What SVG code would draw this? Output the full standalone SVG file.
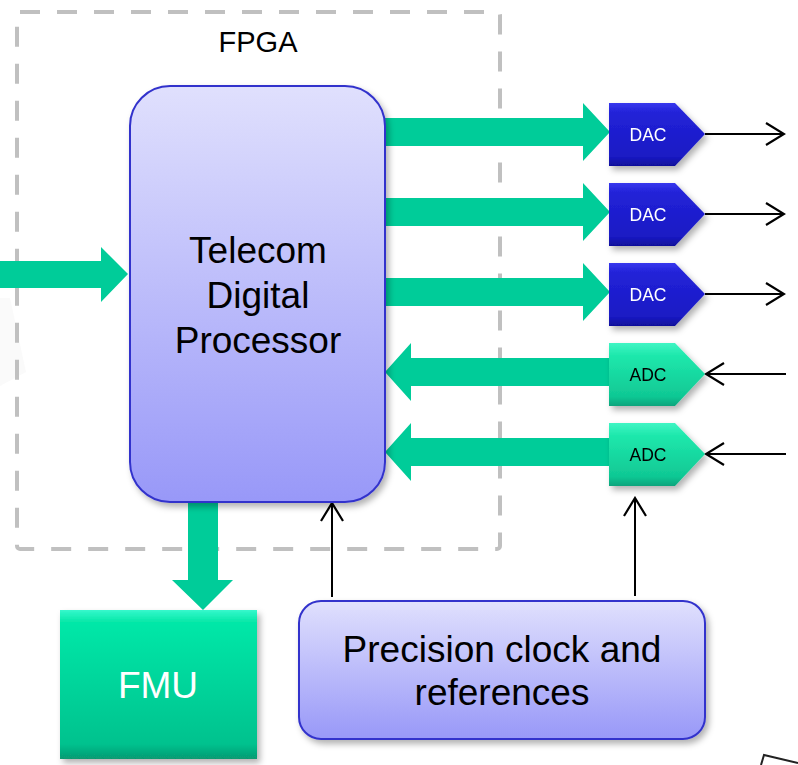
<svg xmlns="http://www.w3.org/2000/svg" width="798" height="765" viewBox="0 0 798 765">
  <defs>
    <linearGradient id="lavender" x1="0" y1="0" x2="0" y2="1">
      <stop offset="0" stop-color="#e0e0fd"/>
      <stop offset="1" stop-color="#9898f8"/>
    </linearGradient>
    <linearGradient id="dacFill" x1="0" y1="0" x2="0" y2="1">
      <stop offset="0" stop-color="#3838ee"/>
      <stop offset="0.15" stop-color="#2222d8"/>
      <stop offset="0.85" stop-color="#1a1ac4"/>
      <stop offset="1" stop-color="#10109a"/>
    </linearGradient>
    <linearGradient id="adcFill" x1="0" y1="0" x2="0" y2="1">
      <stop offset="0" stop-color="#40f5c4"/>
      <stop offset="0.2" stop-color="#1ee8ac"/>
      <stop offset="0.85" stop-color="#10c894"/>
      <stop offset="1" stop-color="#0ea47c"/>
    </linearGradient>
    <linearGradient id="fmuFill" x1="0" y1="0" x2="0" y2="1">
      <stop offset="0" stop-color="#36f8cc"/>
      <stop offset="0.08" stop-color="#06e8a8"/>
      <stop offset="0.9" stop-color="#04c28e"/>
      <stop offset="1" stop-color="#079a72"/>
    </linearGradient>
    <filter id="shadow" x="-10%" y="-10%" width="130%" height="130%">
      <feDropShadow dx="3" dy="4" stdDeviation="3" flood-color="#000" flood-opacity="0.3"/>
    </filter>
    <marker id="chevron" markerUnits="userSpaceOnUse" markerWidth="22" markerHeight="26" viewBox="0 0 22 26" refX="20" refY="13" orient="auto">
      <path d="M2,2 L20,13 L2,24" fill="none" stroke="#000" stroke-width="2.2"/>
    </marker>
    <style>
      .bus { fill: #00cc99; }
      .wire { stroke: #000; stroke-width: 2; fill: none; marker-end: url(#chevron); }
      .big { font-family: "Liberation Sans", Arial, sans-serif; font-size: 37px; text-anchor: middle; }
      .small { font-family: "Liberation Sans", Arial, sans-serif; font-size: 17.5px; text-anchor: middle; }
    </style>
  </defs>

  <rect width="798" height="765" fill="#fff"/>

  <!-- faint background remnants -->
  <polygon points="0,298 10,298 26,372 0,386" fill="#fafafa"/>
  <path d="M761,765 L764,755 L798,763" fill="none" stroke="#222" stroke-width="2"/>

  <!-- FPGA boundary -->
  <g id="fpga">
    <rect x="17" y="12" width="483" height="537" rx="3" fill="none" stroke="#c0c0c0" stroke-width="4" stroke-dasharray="20 17"/>
    <text x="258" y="52" font-family="Liberation Sans, Arial, sans-serif" font-size="29" text-anchor="middle">FPGA</text>
  </g>

  <!-- connectors -->
  <g id="connectors">
    <polygon class="bus" points="0,261 101,261 101,247 128,274 101,302 101,288 0,288"/>
    <polygon class="bus" points="385,118 583,118 583,103 610,132 583,161 583,146 385,146"/>
    <polygon class="bus" points="385,198 583,198 583,183 610,212 583,241 583,226 385,226"/>
    <polygon class="bus" points="385,278 583,278 583,263 610,292 583,321 583,306 385,306"/>
    <polygon class="bus" points="610,358 411,358 411,343 385,372 411,401 411,386 610,386"/>
    <polygon class="bus" points="610,438 411,438 411,423 385,452 411,481 411,466 610,466"/>
    <polygon class="bus" points="188,500 218,500 218,580 233,580 203,610 172,580 188,580"/>
    <line class="wire" x1="705" y1="134" x2="784" y2="134"/>
    <line class="wire" x1="705" y1="214" x2="784" y2="214"/>
    <line class="wire" x1="705" y1="294" x2="784" y2="294"/>
    <line class="wire" x1="786" y1="374" x2="706" y2="374"/>
    <line class="wire" x1="786" y1="454" x2="706" y2="454"/>
    <line class="wire" x1="332" y1="597" x2="332" y2="503"/>
    <line class="wire" x1="635" y1="596" x2="635" y2="498"/>
  </g>

  <!-- main processor -->
  <g id="processor">
    <rect x="130" y="86" width="255" height="416" rx="40" fill="url(#lavender)" stroke="#3333cc" stroke-width="2" filter="url(#shadow)"/>
    <text class="big" x="258" y="263">Telecom</text>
    <text class="big" x="258" y="308">Digital</text>
    <text class="big" x="258" y="353">Processor</text>
  </g>

  <!-- converters -->
  <g id="dac1" filter="url(#shadow)">
    <polygon points="609,103 675,103 705,134 675,166 609,166" fill="url(#dacFill)"/>
    <text class="small" x="648" y="141" fill="#fff">DAC</text>
  </g>
  <g id="dac2" filter="url(#shadow)">
    <polygon points="609,183 675,183 705,214 675,246 609,246" fill="url(#dacFill)"/>
    <text class="small" x="648" y="221" fill="#fff">DAC</text>
  </g>
  <g id="dac3" filter="url(#shadow)">
    <polygon points="609,263 675,263 705,294 675,326 609,326" fill="url(#dacFill)"/>
    <text class="small" x="648" y="301" fill="#fff">DAC</text>
  </g>
  <g id="adc1" filter="url(#shadow)">
    <polygon points="609,343 675,343 705,374 675,406 609,406" fill="url(#adcFill)"/>
    <text class="small" x="648" y="381" fill="#000">ADC</text>
  </g>
  <g id="adc2" filter="url(#shadow)">
    <polygon points="609,423 675,423 705,454 675,486 609,486" fill="url(#adcFill)"/>
    <text class="small" x="648" y="461" fill="#000">ADC</text>
  </g>

  <!-- FMU -->
  <g id="fmu">
    <rect x="60" y="610" width="197" height="149" fill="url(#fmuFill)" filter="url(#shadow)"/>
    <text class="big" x="158" y="698" fill="#fff">FMU</text>
  </g>

  <!-- clock source -->
  <g id="clock">
    <rect x="299" y="601" width="406" height="138" rx="22" fill="url(#lavender)" stroke="#3333cc" stroke-width="2" filter="url(#shadow)"/>
    <text class="big" x="502" y="662">Precision clock and</text>
    <text class="big" x="502" y="705">references</text>
  </g>
</svg>
